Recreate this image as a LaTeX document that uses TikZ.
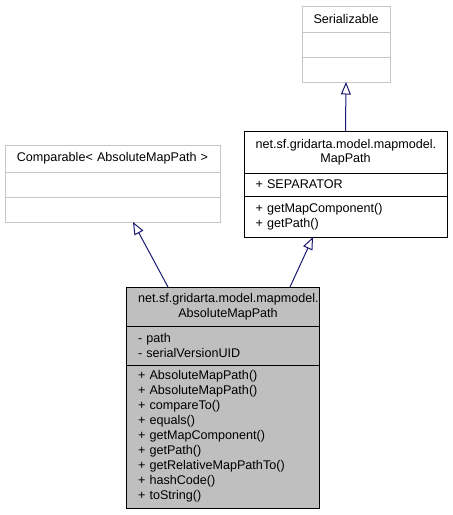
\documentclass[tikz,border=0pt]{standalone}
\usepackage{fontspec}
\setmainfont{Liberation Sans}
\usetikzlibrary{positioning,arrows.meta}
\definecolor{midnight}{RGB}{25,25,112}
\begin{document}
\begin{tikzpicture}[x=1pt,y=-1pt,
    box/.style={draw=black,line width=0.9pt,outer sep=0pt,inner xsep=11.5pt,inner ysep=0pt,
      font=\fontsize{12.6}{14.5}\selectfont},
    grey box/.style={box,draw=gray!45},
    focus/.style={box,fill=gray!50,inner xsep=1pt,execute at begin node={\advance\leftskip by 11pt}},
    inherit/.style={draw=midnight,line width=1pt,-{Triangle[open,length=12.5pt,width=10pt,fill=white]}}]
  \useasboundingbox (0,0) rectangle (453,515);
  % Serializable
  \node[grey box,anchor=north west,text width=65pt,align=center,minimum height=26pt] (ser-name) at (302,6) {Serializable};
  \node[grey box,below=0pt of ser-name,text width=65pt,minimum height=25pt] (ser-attr) {};
  \node[grey box,below=0pt of ser-attr,text width=65pt,minimum height=25pt] (ser-ops) {};
  % Comparable
  \node[grey box,anchor=north west,text width=192pt,align=center,minimum height=27pt] (cmp-name) at (5,145) {Comparable< AbsoluteMapPath >};
  \node[grey box,below=0pt of cmp-name,text width=192pt,minimum height=25pt] (cmp-attr) {};
  \node[grey box,below=0pt of cmp-attr,text width=192pt,minimum height=25pt] (cmp-ops) {};
  % MapPath
  \node[box,anchor=north west,text width=180pt,align=center,minimum height=42pt] (mp-name) at (244,131) {net.sf.gridarta.model.mapmodel.\\MapPath};
  \node[box,below=0pt of mp-name,text width=180pt,align=left,minimum height=23pt] (mp-attr) {+ SEPARATOR};
  \node[box,below=0pt of mp-attr,text width=180pt,align=left,minimum height=41pt] (mp-ops) {+ getMapComponent()\\+ getPath()};
  % AbsoluteMapPath
  \node[focus,anchor=north west,text width=191pt,align=center,minimum height=39pt] (amp-name) at (126,287) {net.sf.gridarta.model.mapmodel.\\AbsoluteMapPath};
  \node[focus,below=0pt of amp-name,text width=191pt,align=left,minimum height=39pt] (amp-attr) {- path\\- serialVersionUID};
  \node[focus,below=0pt of amp-attr,text width=191pt,align=left,minimum height=143pt,
    font=\fontsize{12.6}{15}\selectfont] (amp-ops) {+ AbsoluteMapPath()\\+ AbsoluteMapPath()\\+ compareTo()\\+ equals()\\+ getMapComponent()\\+ getPath()\\+ getRelativeMapPathTo()\\+ hashCode()\\+ toString()};
  % inheritance
  \draw[inherit] (mp-name.north) -- (ser-ops.south);
  \draw[inherit] ([xshift=-54.5pt]amp-name.north) -- ([xshift=20.5pt]cmp-ops.south);
  \draw[inherit] ([xshift=67.5pt]amp-name.north) -- ([xshift=-32.5pt]mp-ops.south);
\end{tikzpicture}
\end{document}
